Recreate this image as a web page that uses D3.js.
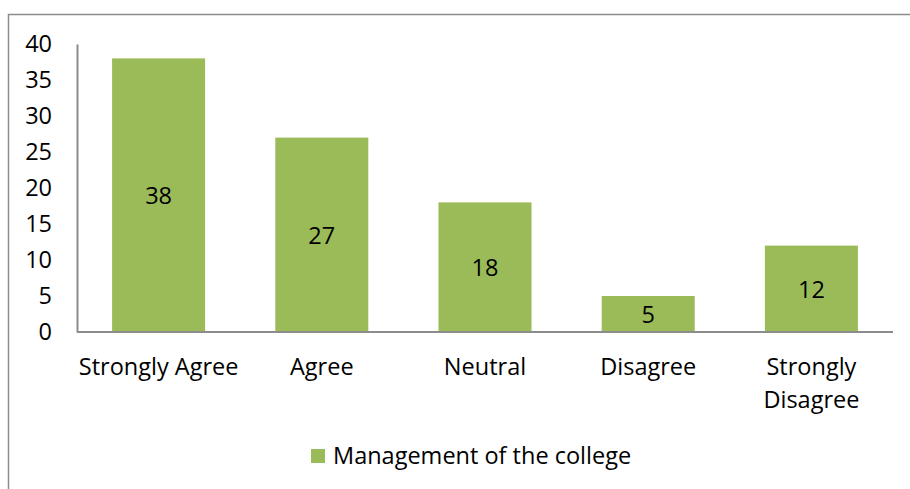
<!DOCTYPE html>
<html><head><meta charset="utf-8">
<script src="https://cdn.jsdelivr.net/npm/d3@7"></script>
<style>body{margin:0;background:#fff}svg{display:block}text{font-family:"Open Sans",sans-serif;fill:#000}</style>
</head><body><svg id="c" width="910" height="489"></svg>
<script>
const categories = ["Strongly Agree", "Agree", "Neutral", "Disagree", "Strongly Disagree"];
const values = [38, 27, 18, 5, 12];
const yTicks = [0, 5, 10, 15, 20, 25, 30, 35, 40];
const seriesName = "Management of the college";

const svg = d3.select("#c");
const color = "#9BBB59";
const fs = 23.5;
const ff = "'Open Sans',sans-serif";
// outer border
svg.append("path").attr("d", "M8.5,489 L8.5,14.5 L910,14.5").attr("fill", "none").attr("stroke", "#8c8c8c").attr("stroke-width", 1.5);

const L = 77, R = 893, T = 44, B = 332;
const x = d3.scaleBand().domain(categories).range([L, R]).paddingInner(0.43).paddingOuter(0.215);
const y = d3.scaleLinear().domain([0, 40]).range([B, T]);

svg.selectAll("rect.bar").data(values).join("rect").attr("class", "bar")
  .attr("x", (d, i) => x(categories[i])).attr("width", x.bandwidth())
  .attr("y", d => y(d)).attr("height", d => B - y(d)).attr("fill", color);

svg.selectAll("text.val").data(values).join("text").attr("class", "val")
  .attr("x", (d, i) => x(categories[i]) + x.bandwidth() / 2)
  .attr("y", d => (y(d) + B) / 2 + 1).attr("dy", "0.35em")
  .attr("text-anchor", "middle").attr("font-size", fs).text(d => d);

const yAxis = d3.axisLeft(y).tickValues(yTicks).tickSize(0).tickPadding(25);
const gy = svg.append("g").attr("transform", `translate(${L},0)`).call(yAxis);
gy.select(".domain").attr("stroke", "#8c8c8c").attr("stroke-width", 2);
gy.selectAll("text").attr("font-size", fs).attr("font-family", ff).attr("fill", "#000");

const xAxis = d3.axisBottom(x).tickSize(0).tickPadding(0);
const gx = svg.append("g").attr("transform", `translate(0,${B})`).call(xAxis);
gx.select(".domain").attr("stroke", "#8c8c8c").attr("stroke-width", 2).attr("d", `M${L},0H${R}`);
gx.selectAll("text").remove();
gx.selectAll(".tick").each(function(d) {
  const words = d === "Strongly Disagree" ? ["Strongly", "Disagree"] : [d];
  const t = d3.select(this).append("text").attr("text-anchor", "middle")
    .attr("font-size", fs).attr("font-family", ff).attr("fill", "#000");
  words.forEach((w, i) => t.append("tspan").attr("x", 0).attr("y", 35 + i * 33).attr("dy", "0.35em").text(w));
});

const lg = svg.append("g");
lg.append("rect").attr("x", 311).attr("y", 449).attr("width", 14).attr("height", 14).attr("fill", color);
lg.append("text").attr("x", 333).attr("y", 456).attr("dy", "0.35em").attr("font-size", fs).text(seriesName);
</script></body></html>
